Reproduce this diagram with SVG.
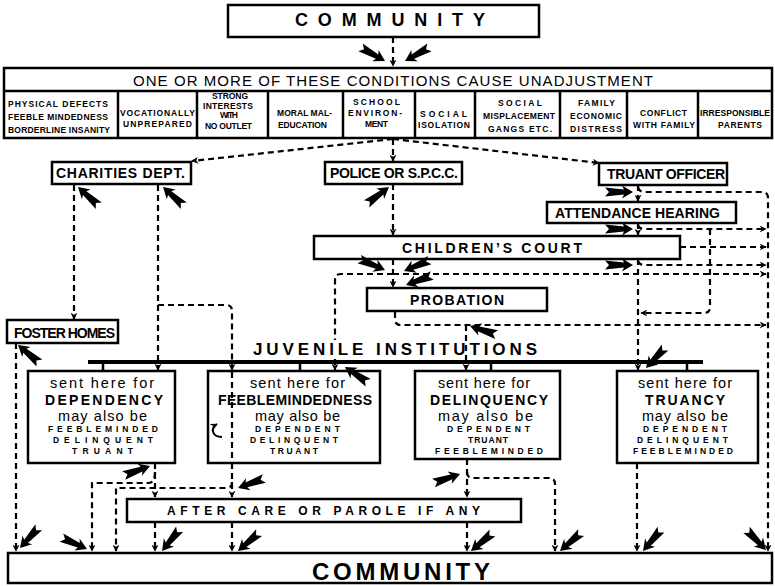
<svg xmlns="http://www.w3.org/2000/svg" width="775" height="586" viewBox="0 0 775 586">
<defs>
<marker id="ah" viewBox="0 0 10 10" refX="9" refY="5" markerWidth="7" markerHeight="7" markerUnits="userSpaceOnUse" orient="auto"><path d="M0,0 L10,5 L0,10 L3,5 Z" fill="#000"/></marker>
<path id="fa" d="M0,0 L-11,-6.5 L-9,-2.5 L-28,-4.5 L-24,0 L-28,4.5 L-9,2.5 L-11,6.5 Z" fill="#000"/>
</defs>
<style>
.box{fill:#fff;stroke:#000;stroke-width:2.5}
.ln{stroke:#000;stroke-width:2.5}
.dl{fill:none;stroke:#000;stroke-width:2.2;stroke-dasharray:6 4}
.a{marker-end:url(#ah)}
text{font-family:"Liberation Sans",Arial,sans-serif;fill:#000}
.cell{font-size:8.5px;font-weight:bold}
.lab{font-size:14px;font-weight:bold}
.sm{font-size:14.5px}
.big{font-size:14px;font-weight:bold}
.cap{font-size:8.5px;font-weight:bold}
</style>
<rect width="775" height="586" fill="#fff"/>

<g id="community-top">
<rect class="box" x="228" y="5" width="311" height="32"/>
<text x="295" y="26" font-size="18" font-weight="bold" textLength="190" lengthAdjust="spacing">COMMUNITY</text>
</g>

<g id="conditions">
<rect class="box" x="4" y="68" width="768" height="70"/>
<line class="ln" x1="4" y1="91" x2="772" y2="91"/>
<g class="ln">
<line x1="118" y1="91" x2="118" y2="138"/><line x1="197" y1="91" x2="197" y2="138"/><line x1="268" y1="91" x2="268" y2="138"/>
<line x1="343" y1="91" x2="343" y2="138"/><line x1="415" y1="91" x2="415" y2="138"/><line x1="475" y1="91" x2="475" y2="138"/>
<line x1="560" y1="91" x2="560" y2="138"/><line x1="627" y1="91" x2="627" y2="138"/><line x1="698" y1="91" x2="698" y2="138"/>
</g>
<text x="133" y="86" font-size="15" textLength="520" lengthAdjust="spacing">ONE OR MORE OF THESE CONDITIONS CAUSE UNADJUSTMENT</text>
<text class="cell" x="8" y="107" textLength="100" lengthAdjust="spacing">PHYSICAL DEFECTS</text>
<text class="cell" x="8" y="120" textLength="100" lengthAdjust="spacing">FEEBLE MINDEDNESS</text>
<text class="cell" x="8" y="133" textLength="102" lengthAdjust="spacing">BORDERLINE INSANITY</text>
<text class="cell" x="120" y="116" textLength="75" lengthAdjust="spacing">VOCATIONALLY</text>
<text class="cell" x="123" y="127" textLength="69" lengthAdjust="spacing">UNPREPARED</text>
<text class="cell" x="212" y="98.5" textLength="36" lengthAdjust="spacing">STRONG</text>
<text class="cell" x="203" y="109" font-size="7.5" textLength="50" lengthAdjust="spacing">INTERESTS</text>
<text class="cell" x="220" y="117.5" font-size="6" textLength="18" lengthAdjust="spacing">WITH</text>
<text class="cell" x="205" y="129" font-size="8" textLength="47" lengthAdjust="spacing">NO OUTLET</text>
<text class="cell" x="277" y="116" textLength="55" lengthAdjust="spacing">MORAL MAL-</text>
<text class="cell" x="278" y="128" textLength="49" lengthAdjust="spacing">EDUCATION</text>
<text class="cell" x="353" y="105" textLength="47" lengthAdjust="spacing">SCHOOL</text>
<text class="cell" x="348" y="116" textLength="54" lengthAdjust="spacing">ENVIRON-</text>
<text class="cell" x="365" y="127" textLength="23" lengthAdjust="spacing">MENT</text>
<text class="cell" x="420" y="117" textLength="47" lengthAdjust="spacing">SOCIAL</text>
<text class="cell" x="418" y="128" textLength="52" lengthAdjust="spacing">ISOLATION</text>
<text class="cell" x="498" y="106" textLength="44" lengthAdjust="spacing">SOCIAL</text>
<text class="cell" x="483" y="119" textLength="72" lengthAdjust="spacing">MISPLACEMENT</text>
<text class="cell" x="488" y="132" textLength="64" lengthAdjust="spacing">GANGS ETC.</text>
<text class="cell" x="578" y="106" textLength="37" lengthAdjust="spacing">FAMILY</text>
<text class="cell" x="570" y="119" textLength="52" lengthAdjust="spacing">ECONOMIC</text>
<text class="cell" x="570" y="132" textLength="52" lengthAdjust="spacing">DISTRESS</text>
<text class="cell" x="640" y="116" textLength="47" lengthAdjust="spacing">CONFLICT</text>
<text class="cell" x="633" y="128" textLength="62" lengthAdjust="spacing">WITH FAMILY</text>
<text class="cell" x="700" y="116" textLength="70" lengthAdjust="spacing">IRRESPONSIBLE</text>
<text class="cell" x="718" y="128" textLength="44" lengthAdjust="spacing">PARENTS</text>
</g>

<g id="charities">
<rect class="box" x="52" y="162" width="139" height="22"/>
<text class="lab" x="56" y="178" textLength="129" lengthAdjust="spacing">CHARITIES DEPT.</text>
</g>
<g id="police">
<rect class="box" x="325" y="162" width="137" height="22"/>
<text class="lab" x="330" y="178" font-size="13" textLength="128" lengthAdjust="spacing">POLICE OR S.P.C.C.</text>
</g>
<g id="truant-officer">
<rect class="box" x="599" y="163" width="128" height="22"/>
<text class="lab" x="607" y="179" textLength="118" lengthAdjust="spacing">TRUANT OFFICER</text>
</g>
<g id="attendance-hearing">
<rect class="box" x="547" y="202" width="189" height="21"/>
<text class="lab" x="555" y="218" textLength="165" lengthAdjust="spacing">ATTENDANCE HEARING</text>
</g>
<g id="childrens-court">
<rect class="box" x="314" y="236" width="366" height="23"/>
<text class="lab" x="402" y="253" textLength="180" lengthAdjust="spacing">CHILDREN’S COURT</text>
</g>
<g id="probation">
<rect class="box" x="367" y="288" width="180" height="23"/>
<text class="lab" x="410" y="305" textLength="94" lengthAdjust="spacing">PROBATION</text>
</g>
<g id="foster-homes">
<rect class="box" x="7" y="320" width="111" height="23"/>
<text class="lab" x="14" y="338" font-size="13" textLength="101" lengthAdjust="spacing">FOSTER HOMES</text>
</g>

<g id="juvenile-institutions">
<text x="253" y="355" font-size="17" font-weight="bold" textLength="284" lengthAdjust="spacing">JUVENILE INSTITUTIONS</text>
<line x1="88" y1="362" x2="703" y2="362" stroke="#000" stroke-width="4"/>
<g class="ln">
<line x1="103" y1="362" x2="103" y2="371"/><line x1="300" y1="362" x2="300" y2="371"/>
<line x1="491" y1="362" x2="491" y2="371"/><line x1="687" y1="362" x2="687" y2="371"/>
</g>
</g>

<g id="inst-dependency">
<rect class="box" x="28" y="371" width="147" height="92"/>
<text class="sm" x="50" y="388" textLength="104" lengthAdjust="spacing">sent here for</text>
<text class="big" x="45" y="404.5" textLength="118" lengthAdjust="spacing">DEPENDENCY</text>
<text class="sm" x="58" y="420.5" textLength="89" lengthAdjust="spacing">may also be</text>
<text class="cap" x="48" y="432" textLength="110" lengthAdjust="spacing">FEEBLEMINDED</text>
<text class="cap" x="53" y="443" textLength="100" lengthAdjust="spacing">DELINQUENT</text>
<text class="cap" x="72" y="454" textLength="61" lengthAdjust="spacing">TRUANT</text>
</g>
<g id="inst-feeblemindedness">
<rect class="box" x="208" y="371" width="172" height="92"/>
<text class="sm" x="250" y="388" textLength="95" lengthAdjust="spacing">sent here for</text>
<text class="big" x="218" y="404.5" textLength="154" lengthAdjust="spacing">FEEBLEMINDEDNESS</text>
<text class="sm" x="255" y="420.5" textLength="85" lengthAdjust="spacing">may also be</text>
<text class="cap" x="255" y="432" textLength="85" lengthAdjust="spacing">DEPENDENT</text>
<text class="cap" x="250" y="443" textLength="88" lengthAdjust="spacing">DELINQUENT</text>
<text class="cap" x="270" y="454" textLength="48" lengthAdjust="spacing">TRUANT</text>
</g>
<g id="inst-delinquency">
<rect class="box" x="415" y="371" width="145" height="88"/>
<text class="sm" x="438" y="388" textLength="92" lengthAdjust="spacing">sent here for</text>
<text class="big" x="430" y="404.5" textLength="118" lengthAdjust="spacing">DELINQUENCY</text>
<text class="sm" x="438" y="420.5" textLength="95" lengthAdjust="spacing">may also be</text>
<text class="cap" x="447" y="432" textLength="83" lengthAdjust="spacing">DEPENDENT</text>
<text class="cap" x="468" y="443" textLength="40" lengthAdjust="spacing">TRUANT</text>
<text class="cap" x="435" y="454" textLength="108" lengthAdjust="spacing">FEEBLEMINDED</text>
</g>
<g id="inst-truancy">
<rect class="box" x="617" y="371" width="141" height="92"/>
<text class="sm" x="638" y="388" textLength="94" lengthAdjust="spacing">sent here for</text>
<text class="big" x="645" y="404.5" textLength="80" lengthAdjust="spacing">TRUANCY</text>
<text class="sm" x="642" y="420.5" textLength="86" lengthAdjust="spacing">may also be</text>
<text class="cap" x="643" y="432" textLength="84" lengthAdjust="spacing">DEPENDENT</text>
<text class="cap" x="637" y="443" textLength="91" lengthAdjust="spacing">DELINQUENT</text>
<text class="cap" x="633" y="454" textLength="100" lengthAdjust="spacing">FEEBLEMINDED</text>
</g>

<g id="after-care">
<rect class="box" x="127" y="499" width="394" height="23"/>
<text x="167" y="515" font-size="12" font-weight="bold" textLength="313" lengthAdjust="spacing">AFTER CARE OR PAROLE IF ANY</text>
</g>

<g id="community-bottom">
<rect class="box" x="8" y="553" width="764" height="30"/>
<text x="312" y="580" font-size="24" font-weight="bold" textLength="178" lengthAdjust="spacing">COMMUNITY</text>
</g>

<g id="connectors">
<path class="dl a" d="M393,37 V66"/>
<path class="dl a" d="M393,139 L192,161"/>
<path class="dl a" d="M393,139 L599,163"/>
<path class="dl a" d="M393,139 V161"/>
<path class="dl a" d="M74,185 V319"/>
<path class="dl a" d="M158,185 V370"/>
<path class="dl a" d="M158,305 H226 Q232,305 232,311 V370"/>
<path class="dl" d="M232,372 V463"/>
<path class="dl a" d="M232,463 V497"/>
<path class="dl a" d="M232,482 Q232,488 226,488 H116 V551"/>
<path class="dl a" d="M232,522 V551"/>
<path class="dl a" d="M155,463 V497"/>
<path class="dl a" d="M155,472 Q155,483 148,483 H92 V551"/>
<path class="dl a" d="M155,522 V551"/>
<path class="dl a" d="M16,343 V551"/>
<path class="dl a" d="M393,184 V235"/>
<path class="dl a" d="M393,259 V287"/>
<path class="dl a" d="M638,185 V201"/>
<path class="dl a" d="M638,187 Q639,192 645,192 H762 Q768,192 768,198 V551"/>
<path class="dl a" d="M638,223 V235"/>
<path class="dl a" d="M638,225 Q639,229 645,229 H766"/>
<path class="dl a" d="M710,229 V307 Q710,313 704,313 H641"/>
<path class="dl a" d="M680,247 H766"/>
<path class="dl a" d="M638,259 V370"/>
<path class="dl a" d="M638,261 Q639,265 645,265 H766"/>
<path class="dl a" d="M393,274 H766"/>
<path class="dl" d="M393,274 H341 Q335,274 335,280 V340"/>
<path class="dl a" d="M335,359 V370"/>
<path class="dl a" d="M395,312 V319 Q395,325 401,325 H766"/>
<path class="dl a" d="M466,325 V370"/>
<path class="dl a" d="M467,459 V497"/>
<path class="dl a" d="M467,472 Q467,478 473,478 H549 Q555,478 555,484 V551"/>
<path class="dl a" d="M467,522 V551"/>
<path class="dl a" d="M637,463 V551"/>
<path class="a" d="M222,437 C212,437 210,428 217,424" fill="none" stroke="#000" stroke-width="2"/>
<use href="#fa" transform="translate(385,61) rotate(29)"/>
<use href="#fa" transform="translate(405,61) rotate(151)"/>
<use href="#fa" transform="translate(78,187) rotate(-138)"/>
<use href="#fa" transform="translate(163,187) rotate(-138)"/>
<use href="#fa" transform="translate(389,187) rotate(-37)"/>
<use href="#fa" transform="translate(633,192) rotate(0)"/>
<use href="#fa" transform="translate(633,229) rotate(0)"/>
<use href="#fa" transform="translate(633,265) rotate(0)"/>
<use href="#fa" transform="translate(385,270) rotate(23)"/>
<use href="#fa" transform="translate(404,271) rotate(157)"/>
<use href="#fa" transform="translate(406,285) rotate(160)"/>
<use href="#fa" transform="translate(470,326) rotate(-162)"/>
<use href="#fa" transform="translate(18,345) rotate(-140)"/>
<use href="#fa" transform="translate(345,367) rotate(-146)"/>
<use href="#fa" transform="translate(646,368) rotate(133)"/>
<use href="#fa" transform="translate(150,466) rotate(-20)"/>
<use href="#fa" transform="translate(238,488) rotate(160)"/>
<use href="#fa" transform="translate(460,474) rotate(-19)"/>
<use href="#fa" transform="translate(20,548) rotate(132)"/>
<use href="#fa" transform="translate(87,549) rotate(24)"/>
<use href="#fa" transform="translate(162,551) rotate(129)"/>
<use href="#fa" transform="translate(238,551) rotate(139)"/>
<use href="#fa" transform="translate(471,551) rotate(140)"/>
<use href="#fa" transform="translate(560,551) rotate(139)"/>
<use href="#fa" transform="translate(643,551) rotate(130)"/>
<use href="#fa" transform="translate(766,550) rotate(46)"/>
</g>
</svg>
